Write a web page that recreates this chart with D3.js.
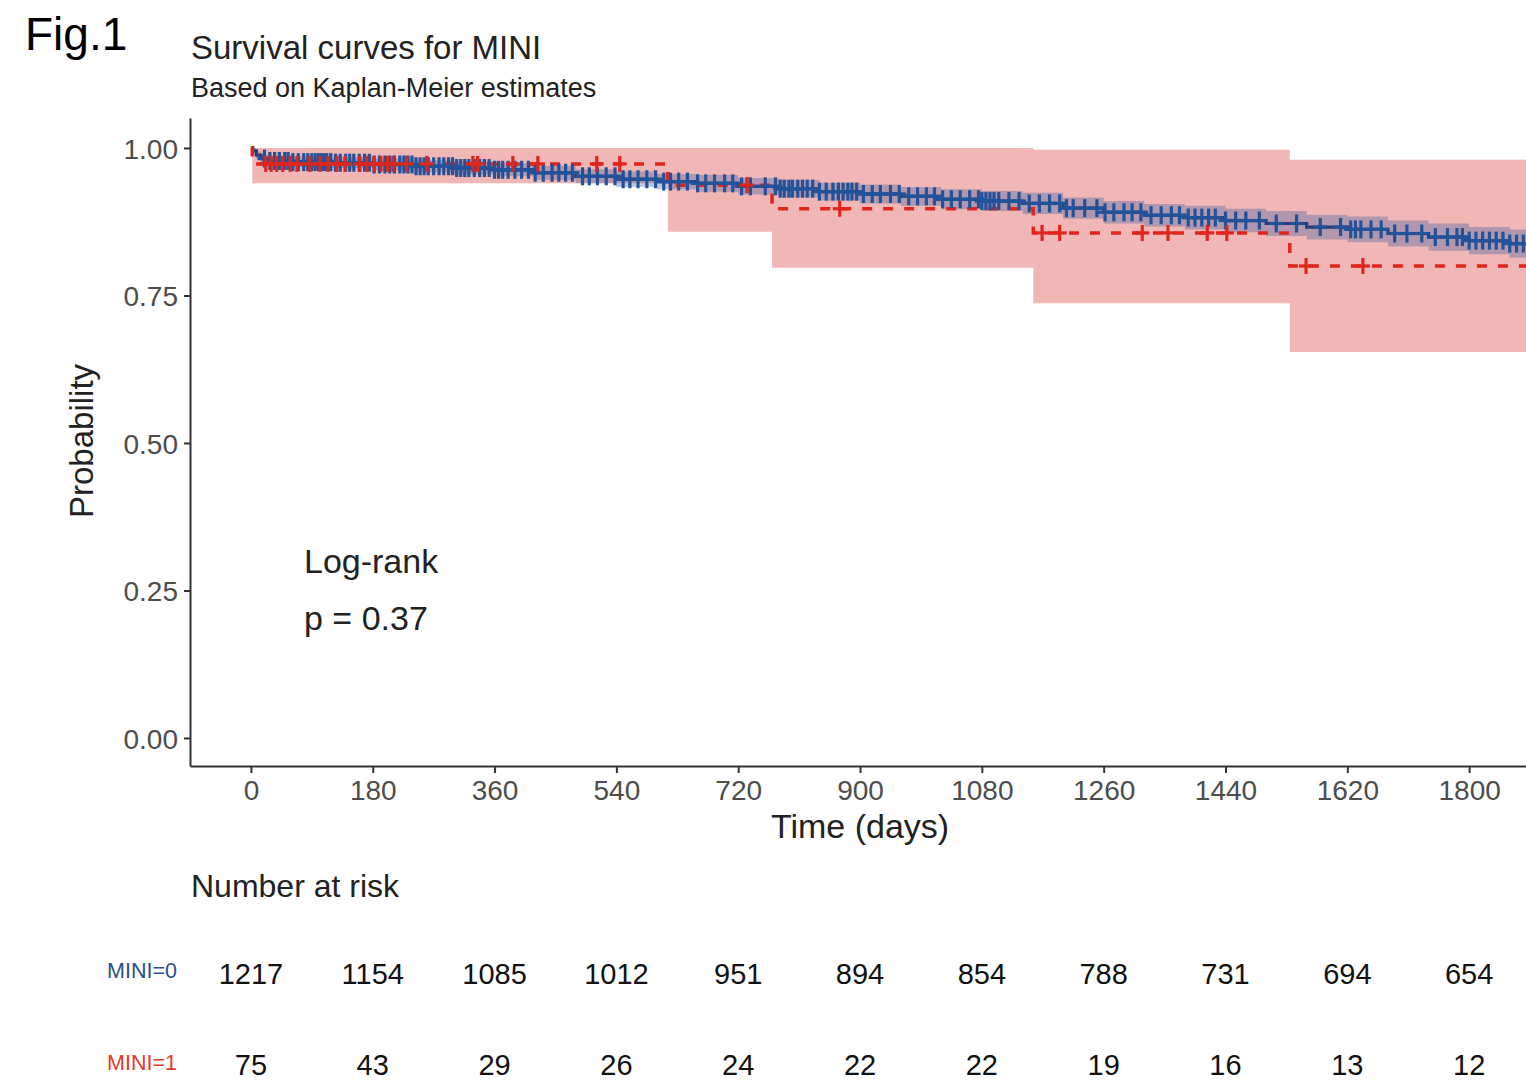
<!DOCTYPE html>
<html>
<head>
<meta charset="utf-8">
<script src="https://cdn.jsdelivr.net/npm/d3@7"></script>
<style>
  body { margin: 0; background: #fff; }
  text { font-family: "Liberation Sans", Arial, sans-serif; }
</style>
</head>
<body>
<svg id="chart" width="1526" height="1082"></svg>
<script>
// --- data ---
var blueTime  = [0, 3, 8, 15, 25, 60, 120, 180, 240, 300, 360, 420, 480, 540, 600, 660, 720, 780, 840, 900, 960, 1020, 1080, 1140, 1200, 1260, 1320, 1380, 1440, 1500, 1560, 1620, 1680, 1740, 1800, 1860];
var blueSurv  = [1, 0.995, 0.988, 0.982, 0.978, 0.976, 0.975, 0.972, 0.969, 0.966, 0.963, 0.958, 0.952, 0.947, 0.943, 0.940, 0.935, 0.931, 0.926, 0.922, 0.918, 0.913, 0.910, 0.906, 0.898, 0.891, 0.886, 0.882, 0.877, 0.872, 0.866, 0.862, 0.855, 0.849, 0.843, 0.838];
var blueLower = [1, 0.991, 0.982, 0.975, 0.970, 0.967, 0.966, 0.962, 0.959, 0.955, 0.952, 0.946, 0.940, 0.934, 0.930, 0.926, 0.921, 0.916, 0.911, 0.906, 0.902, 0.896, 0.893, 0.888, 0.880, 0.872, 0.867, 0.862, 0.857, 0.851, 0.845, 0.840, 0.833, 0.826, 0.820, 0.814];
var blueUpper = [1, 0.999, 0.994, 0.989, 0.986, 0.985, 0.984, 0.982, 0.979, 0.977, 0.974, 0.970, 0.964, 0.960, 0.956, 0.954, 0.949, 0.946, 0.941, 0.938, 0.934, 0.930, 0.927, 0.924, 0.916, 0.910, 0.905, 0.902, 0.897, 0.893, 0.887, 0.884, 0.877, 0.872, 0.866, 0.862];
var blueCensor = [20, 28, 35, 42, 50, 55, 62, 70, 78, 84, 90, 95, 100, 104, 108, 112, 118, 125, 132, 140, 146, 152, 160, 168, 175, 182, 190, 198, 205, 212, 220, 226, 232, 238, 244, 250, 256, 262, 270, 278, 285, 292, 298, 304, 310, 316, 322, 330, 338, 345, 352, 360, 366, 372, 380, 390, 400, 410, 420, 432, 445, 455, 465, 475, 490, 500, 512, 525, 538, 550, 560, 572, 585, 598, 610, 620, 632, 645, 660, 672, 685, 700, 712, 725, 738, 760, 775, 782, 788, 795, 800, 808, 815, 822, 830, 840, 850, 860, 868, 875, 882, 888, 895, 905, 918, 930, 945, 958, 972, 985, 998, 1010, 1022, 1035, 1048, 1062, 1075, 1080, 1086, 1092, 1098, 1105, 1120, 1135, 1150, 1165, 1180, 1195, 1205, 1215, 1232, 1250, 1262, 1275, 1290, 1302, 1315, 1330, 1345, 1360, 1372, 1385, 1395, 1405, 1415, 1425, 1440, 1455, 1470, 1490, 1515, 1545, 1580, 1610, 1625, 1632, 1640, 1655, 1670, 1690, 1708, 1730, 1750, 1768, 1782, 1790, 1800, 1810, 1820, 1830, 1840, 1850, 1860, 1870, 1880];

var redTime  = [0, 2, 616, 770, 1156, 1535];
var redSurv  = [1, 0.973, 0.937, 0.897, 0.856, 0.800];
var redLower = [1, 0.940, 0.858, 0.797, 0.737, 0.654];
var redUpper = [1, 1.000, 1.000, 1.000, 0.997, 0.980];
var redCensor = [22, 30, 38, 47, 58, 68, 87, 102, 114, 127, 139, 161, 171, 182, 192, 202, 210, 230, 260, 328, 335, 387, 424, 511, 545, 733, 870, 1169, 1195, 1317, 1355, 1413, 1442, 1559, 1643];

var endTime = 1884;

var riskTimes = [0, 180, 360, 540, 720, 900, 1080, 1260, 1440, 1620, 1800];
var risk0 = [1217, 1154, 1085, 1012, 951, 894, 854, 788, 731, 694, 654];
var risk1 = [75, 43, 29, 26, 24, 22, 22, 19, 16, 13, 12];

var yTicks = [0, 0.25, 0.5, 0.75, 1];

var blueCol = "#22529a", blueLine = "#2a3c7c", redCol = "#e0251b";

//--画布--
var svg = d3.select("#chart");
svg.append("rect").attr("width", 1526).attr("height", 1082).attr("fill", "#fff");

var x = d3.scaleLinear().domain([-90, 1884]).range([190, 1526]);
var y = d3.scaleLinear().domain([-0.0475, 1.0508]).range([766, 118]);

svg.append("defs").append("clipPath").attr("id", "plotclip")
  .append("rect").attr("x", 190).attr("y", 112).attr("width", 1336).attr("height", 660);

function toRows(t, s, lo, hi) {
  var rows = t.map(function (d, i) { return {t: d, s: s[i], lo: lo[i], hi: hi[i]}; });
  var last = rows[rows.length - 1];
  rows.push({t: endTime, s: last.s, lo: last.lo, hi: last.hi});
  return rows;
}
var blueRows = toRows(blueTime, blueSurv, blueLower, blueUpper);
var redRows = toRows(redTime, redSurv, redLower, redUpper);

function survAt(times, surv, t) {
  var i = d3.bisectRight(times, t) - 1;
  return surv[Math.max(0, i)];
}

var area = d3.area().curve(d3.curveStepAfter)
  .x(function (d) { return x(d.t); })
  .y0(function (d) { return y(d.lo); })
  .y1(function (d) { return y(d.hi); });
var line = d3.line().curve(d3.curveStepAfter)
  .x(function (d) { return x(d.t); })
  .y(function (d) { return y(d.s); });

var plot = svg.append("g").attr("clip-path", "url(#plotclip)");

// bands
plot.append("path").datum(redRows.slice(1)).attr("d", area)
  .attr("fill", "#d62020").attr("fill-opacity", 0.33);
plot.append("path").datum(blueRows).attr("d", area)
  .attr("fill", "#1f4e99").attr("fill-opacity", 0.3);

// curves
plot.append("path").datum(blueRows).attr("d", line)
  .attr("fill", "none").attr("stroke", blueLine).attr("stroke-width", 3.2);
plot.append("path").datum(redRows).attr("d", line)
  .attr("fill", "none").attr("stroke", redCol).attr("stroke-width", 3.5)
  .attr("stroke-dasharray", "10,11");

// censor marks
function drawCensor(days, times, surv, col, h) {
  var g = plot.append("g").attr("stroke", col).attr("stroke-width", 3.2);
  days.forEach(function (t) {
    var cx = x(t), cy = y(survAt(times, surv, t));
    g.append("line").attr("x1", cx).attr("x2", cx).attr("y1", cy - h).attr("y2", cy + h);
    g.append("line").attr("x1", cx - 7).attr("x2", cx + 7).attr("y1", cy).attr("y2", cy);
  });
}
drawCensor(blueCensor, blueTime, blueSurv, blueCol, 9);
drawCensor(redCensor, redTime, redSurv, redCol, 8);

// axes
var yAxis = svg.append("g").attr("transform", "translate(190,0)")
  .call(d3.axisLeft(y).tickValues(yTicks).tickFormat(d3.format(".2f")).tickSize(6).tickSizeOuter(0));
var xAxis = svg.append("g").attr("transform", "translate(0,766)")
  .call(d3.axisBottom(x).tickValues(riskTimes).tickFormat(d3.format("d")).tickSize(7).tickSizeOuter(0));
[yAxis, xAxis].forEach(function (a) {
  a.select(".domain").attr("stroke", "#333").attr("stroke-width", 2);
  a.selectAll(".tick line").attr("stroke", "#333").attr("stroke-width", 2);
  a.selectAll(".tick text").attr("fill", "#4d4d4d").style("font-size", "28px");
});
yAxis.selectAll(".tick text").attr("x", -12).attr("dy", "0.36em");
xAxis.selectAll(".tick text").attr("y", 14).attr("dy", "0.71em");

// texts
svg.append("text").attr("x", 25).attr("y", 50).text("Fig.1")
  .style("font-size", "46px").attr("fill", "#000");
svg.append("text").attr("x", 191).attr("y", 59).text("Survival curves for MINI")
  .style("font-size", "33px").attr("fill", "#222");
svg.append("text").attr("x", 191).attr("y", 97).text("Based on Kaplan-Meier estimates")
  .style("font-size", "27px").attr("fill", "#222");
svg.append("text").attr("transform", "translate(93,441) rotate(-90)")
  .attr("text-anchor", "middle").text("Probability")
  .style("font-size", "33px").attr("fill", "#222");
svg.append("text").attr("x", x(900)).attr("y", 838).attr("text-anchor", "middle")
  .text("Time (days)").style("font-size", "34px").attr("fill", "#222");
svg.append("text").attr("x", 304).attr("y", 573).text("Log-rank")
  .style("font-size", "34px").attr("fill", "#222");
svg.append("text").attr("x", 304).attr("y", 630).text("p = 0.37")
  .style("font-size", "34px").attr("fill", "#222");

// risk table
svg.append("text").attr("x", 191).attr("y", 897).text("Number at risk")
  .style("font-size", "32px").attr("fill", "#222");
var rows = [
  {label: "MINI=0", col: "#2b4f8e", vals: risk0, yb: 984, yl: 978},
  {label: "MINI=1", col: "#e23a2a", vals: risk1, yb: 1075, yl: 1070}
];
rows.forEach(function (r) {
  svg.append("text").attr("x", 177).attr("y", r.yl).attr("text-anchor", "end")
    .text(r.label).style("font-size", "21.5px").attr("fill", r.col);
  svg.append("g").selectAll("text").data(r.vals).join("text")
    .attr("x", function (d, i) { return x(riskTimes[i]); })
    .attr("y", r.yb).attr("text-anchor", "middle")
    .style("font-size", "29px").attr("fill", "#111")
    .text(function (d) { return d; });
});
</script>
</body>
</html>
